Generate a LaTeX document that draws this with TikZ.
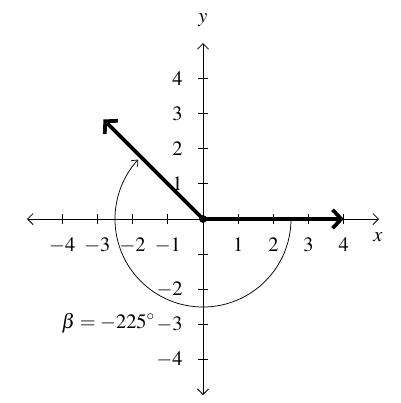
\documentclass[tikz,border=0pt]{standalone}
\usepackage{mathptmx}
\usepackage{fontspec}
\setmainfont{Liberation Serif}
\usetikzlibrary{arrows.meta}
\begin{document}
\begin{tikzpicture}[x=1cm,y=1cm,
  font=\fontsize{16.5}{19}\selectfont,
  axis/.style={line width=0.7pt,{Straight Barb[length=4.5pt,width=9pt]}-{Straight Barb[length=4.5pt,width=9pt]}},
  tick/.style={line width=0.7pt},
  vec/.style={line width=3pt,-{Straight Barb[length=7pt,width=15pt]}},
  anglearc/.style={line width=0.6pt,-{Straight Barb[length=4pt,width=7pt]}},
  lbl/.style={inner sep=0pt}]
\useasboundingbox (-5.767,-5.227) rectangle (5.597,6.222);
\coordinate (O) at (0,0);
\coordinate (xl) at (-5,0);
\coordinate (xr) at (5,0);
\coordinate (yb) at (0,-5);
\coordinate (yt) at (0,5);
\draw[axis] (xl) -- (xr);
\draw[axis] (yb) -- (yt);
\foreach \i in {-4,-3,-2,-1,1,2,3,4} {
  \draw[tick] (\i,-0.13) -- (\i,0.13);
  \draw[tick] (-0.13,\i) -- (0.13,\i);
}
\foreach \i in {-4,-3,-2,-1,1,2,3,4}
  \node[lbl] (xt\i) at (\i,-0.74) {$\i$};
\foreach \i in {-4,-3,-2,1,2,3,4}
  \node[lbl,anchor=east] (yt\i) at (-0.57,\i) {$\i$};
\node[lbl] (xlab) at (4.97,-0.52) {$x$};
\node[lbl] (ylab) at (0,5.65) {$y$};
\coordinate (A) at (4,0);
\coordinate (B) at (135:4);
\draw[anglearc] (0:2.5) arc[start angle=0,end angle=-222.5,radius=2.5];
\draw[vec] (O) -- (A);
\draw[vec] (O) -- (B);
\fill (O) circle[radius=0.11];
\node[lbl,anchor=east] (beta) at (-1.36,-2.95) {$\beta=-225^\circ$};
\end{tikzpicture}
\end{document}
